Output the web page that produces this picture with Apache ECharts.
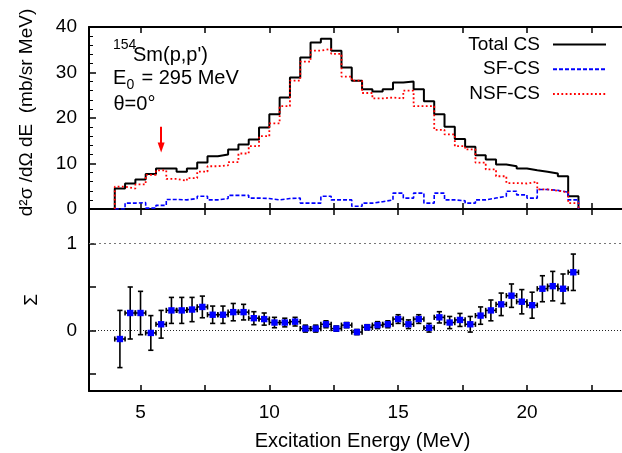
<!DOCTYPE html>
<html>
<head>
<meta charset="utf-8">
<script src="https://cdn.jsdelivr.net/npm/echarts@6/dist/echarts.min.js"></script>
<style>
  html, body { margin: 0; padding: 0; background: #fff; }
  #chart-dev { width: 622px; height: 453px; }
</style>
</head>
<body>
<div id="chart-dev"></div>
<script>
// bin centres (MeV), bins are 0.4 MeV wide
var energy = [4.2, 4.6, 5.0, 5.4, 5.8, 6.2, 6.6, 7.0, 7.4, 7.8, 8.2, 8.6, 9.0, 9.4, 9.8,
    10.2, 10.6, 11.0, 11.4, 11.8, 12.2, 12.6, 13.0, 13.4, 13.8, 14.2, 14.6, 15.0, 15.4, 15.8,
    16.2, 16.6, 17.0, 17.4, 17.8, 18.2, 18.6, 19.0, 19.4, 19.8, 20.2, 20.6, 21.0, 21.4, 21.8];
var binWidth = 0.4;

var totalCS = [4.5, 5.6, 6.5, 7.7, 8.9, 8.9, 8.2, 8.9, 10.2, 11.6, 12.0, 13.1, 14.2, 15.3, 17.9,
    20.8, 24.5, 28.9, 33.3, 36.6, 37.4, 34.8, 31.1, 28.2, 26.3, 25.8, 26.3, 27.8, 28.0, 26.3,
    23.7, 20.8, 18.1, 15.4, 13.7, 11.8, 10.9, 9.8, 9.4, 8.9, 8.5, 8.2, 7.8, 7.2, 2.8];
var sfCS = [0, 1.3, 1.4, 0.2, 0.8, 2.1, 2.0, 2.3, 2.8, 2.0, 2.3, 3.0, 3.0, 2.4, 2.3,
    2.0, 2.3, 2.4, 1.3, 1.3, 2.8, 2.0, 2.0, 0.6, 1.3, 1.6, 2.0, 3.5, 2.4, 3.5,
    1.3, 3.5, 2.0, 1.8, 1.3, 2.0, 2.4, 2.8, 3.9, 3.1, 2.4, 4.3, 4.1, 3.7, 2.0];
var nsfCS = [4.9, 4.5, 5.4, 7.5, 8.5, 6.6, 6.2, 6.8, 8.2, 9.4, 9.6, 10.3, 12.2, 13.8, 16.0,
    18.8, 22.6, 28.2, 32.4, 34.8, 35.2, 34.1, 29.1, 28.2, 25.5, 24.3, 24.5, 24.3, 26.0, 22.6,
    22.6, 17.4, 16.4, 13.8, 13.1, 10.2, 8.7, 7.2, 5.7, 5.6, 6.0, 4.3, 4.0, 3.7, 1.3];

var sigma = [-0.10, 0.20, 0.20, -0.03, 0.07, 0.23, 0.23, 0.24, 0.27, 0.18, 0.18, 0.21, 0.21, 0.14, 0.13,
    0.09, 0.09, 0.10, 0.02, 0.02, 0.07, 0.02, 0.06, -0.02, 0.035, 0.06, 0.07, 0.13, 0.07, 0.13,
    0.03, 0.15, 0.09, 0.12, 0.07, 0.17, 0.23, 0.30, 0.40, 0.33, 0.29, 0.48, 0.51, 0.48, 0.67];
var sigmaErr = [0.33, 0.30, 0.25, 0.20, 0.16, 0.15, 0.15, 0.14, 0.125, 0.10, 0.10, 0.10, 0.09, 0.075, 0.07,
    0.06, 0.05, 0.05, 0.04, 0.04, 0.04, 0.03, 0.03, 0.03, 0.03, 0.04, 0.04, 0.05, 0.05, 0.05,
    0.05, 0.065, 0.07, 0.075, 0.09, 0.10, 0.12, 0.13, 0.135, 0.14, 0.15, 0.15, 0.17, 0.17, 0.21];

// arrow marking the threshold (MeV; shaft top, shaft end and tip in mb/sr MeV)
var arrowE = 5.8;
var arrowFrom = 18.1;
var arrowTo = 13.2;
var arrowTip = 12.4;

var xTickVals = [5, 7.5, 10, 12.5, 15, 17.5, 20, 22.5];
var xLabelVals = [5, 10, 15, 20];
var sigmaTickVals = [-0.5, 0, 0.5, 1];
var sigmaLabelVals = [0, 1];
var sigmaRefLines = [0, 1];

var FONT = "'Liberation Sans', Arial, Helvetica, sans-serif";

var dom = document.getElementById('chart-dev');
var myChart = echarts.init(dom, null, {
    renderer: 'canvas',
    useDirtyRect: false
});

// histogram outline: rise from 0 at first edge, step per bin, drop to 0 at last edge
function histPoints(vals) {
    var half = binWidth / 2;
    var last = energy.length - 1;
    var pts = [[energy[0] - half, 0]];
    for (var i = 0; i < vals.length; i++) {
        pts.push([energy[i] - half, vals[i]]);
    }
    pts.push([energy[last] + half, vals[last]]);
    pts.push([energy[last] + half, 0]);
    return pts;
}

var sigmaData = energy.map(function (e, i) {
    return [e, sigma[i], sigmaErr[i]];
});

function renderErr(params, api) {
    var x = api.value(0), y = api.value(1), err = api.value(2);
    var half = binWidth / 2;
    var p = api.coord([x, y]);
    var top = api.coord([x, y + err]);
    var bot = api.coord([x, y - err]);
    var lft = api.coord([x - half, y]);
    var rgt = api.coord([x + half, y]);
    var cap = 2.6;
    var ls = { stroke: '#000', lineWidth: 1.6 };
    var sz = 6.4;
    return {
        type: 'group',
        children: [
            { type: 'line', shape: { x1: top[0], y1: top[1], x2: bot[0], y2: bot[1] }, style: ls },
            { type: 'line', shape: { x1: top[0] - cap, y1: top[1], x2: top[0] + cap, y2: top[1] }, style: ls },
            { type: 'line', shape: { x1: bot[0] - cap, y1: bot[1], x2: bot[0] + cap, y2: bot[1] }, style: ls },
            { type: 'line', shape: { x1: lft[0], y1: lft[1], x2: rgt[0], y2: rgt[1] }, style: ls },
            { type: 'line', shape: { x1: lft[0], y1: lft[1] - cap, x2: lft[0], y2: lft[1] + cap }, style: ls },
            { type: 'line', shape: { x1: rgt[0], y1: rgt[1] - cap, x2: rgt[0], y2: rgt[1] + cap }, style: ls },
            { type: 'rect', shape: { x: p[0] - sz / 2, y: p[1] - sz / 2, width: sz, height: sz }, style: { fill: '#0000ff' } }
        ]
    };
}

var frameLine = { show: true, onZero: false, lineStyle: { color: '#000', width: 2 } };

function xAx(grid, pos, labels) {
    return {
        type: 'value', gridIndex: grid, position: pos, min: 3, max: 24,
        axisLine: frameLine,
        axisTick: { show: true, inside: true, length: 6, customValues: xTickVals, lineStyle: { color: '#000', width: 1.5 } },
        axisLabel: labels ? {
            show: true, customValues: xLabelVals, margin: 12,
            fontSize: 19, fontFamily: FONT, color: '#000'
        } : { show: false },
        splitLine: { show: false }
    };
}

var option;

option = {
    animation: false,
    backgroundColor: '#fff',
    grid: [
        { left: 89, top: 27, width: 541, height: 182, outerBoundsMode: 'none', containLabel: false },
        { left: 89, top: 209, width: 541, height: 182, outerBoundsMode: 'none', containLabel: false }
    ],
    xAxis: [
        xAx(0, 'bottom', false),
        xAx(0, 'top', false),
        xAx(1, 'top', false),
        xAx(1, 'bottom', true)
    ],
    yAxis: [
        {
            type: 'value', gridIndex: 0, min: 0, max: 40, interval: 10,
            axisLine: frameLine,
            axisTick: { show: true, inside: true, length: 7, lineStyle: { color: '#000', width: 1.5 } },
            minorTick: { show: true, splitNumber: 5, length: 4, lineStyle: { color: '#000', width: 1 } },
            axisLabel: { margin: 12, fontSize: 19, fontFamily: FONT, color: '#000' },
            splitLine: { show: false }
        },
        {
            type: 'value', gridIndex: 1, min: -0.7, max: 1.4,
            axisLine: frameLine,
            axisTick: { show: true, inside: true, length: 7, customValues: sigmaTickVals, lineStyle: { color: '#000', width: 1.5 } },
            axisLabel: { customValues: sigmaLabelVals, margin: 12, fontSize: 19, fontFamily: FONT, color: '#000' },
            splitLine: { show: false }
        }
    ],
    legend: {
        orient: 'vertical',
        right: 15,
        top: 35,
        align: 'right',
        padding: 0,
        itemWidth: 53,
        itemHeight: 14,
        itemGap: 5.7,
        itemStyle: { opacity: 0 },
        lineStyle: { width: 2 },
        textStyle: { fontSize: 19, fontFamily: FONT, color: '#000', padding: [0, 8, 0, 0] },
        data: ['Total CS', 'SF-CS', 'NSF-CS']
    },
    series: [
        {
            name: 'Total CS',
            type: 'line',
            xAxisIndex: 0, yAxisIndex: 0,
            step: 'end',
            symbol: 'none',
            color: '#000',
            lineStyle: { color: '#000', width: 2 },
            data: histPoints(totalCS),
            markLine: {
                silent: true,
                symbol: ['none', 'none'],
                label: { show: false },
                lineStyle: { color: '#ff0000', width: 2, type: 'solid' },
                data: [[{ coord: [arrowE, arrowFrom] }, { coord: [arrowE, arrowTo] }]]
            },
            markPoint: {
                silent: true,
                symbol: 'triangle',
                symbolSize: [7, 10],
                symbolRotate: 180,
                symbolOffset: [0, '-50%'],
                label: { show: false },
                itemStyle: { color: '#ff0000' },
                data: [{ coord: [arrowE, arrowTip] }]
            }
        },
        {
            name: 'SF-CS',
            type: 'line',
            xAxisIndex: 0, yAxisIndex: 0,
            step: 'end',
            symbol: 'none',
            color: '#0000ff',
            lineStyle: { color: '#0000ff', width: 1.6, type: [4, 2] },
            data: histPoints(sfCS)
        },
        {
            name: 'NSF-CS',
            type: 'line',
            xAxisIndex: 0, yAxisIndex: 0,
            step: 'end',
            symbol: 'none',
            color: '#ff0000',
            lineStyle: { color: '#ff0000', width: 1.8, type: [1.8, 2.4] },
            data: histPoints(nsfCS)
        },
        {
            name: 'Sigma',
            type: 'custom',
            xAxisIndex: 3, yAxisIndex: 1,
            renderItem: renderErr,
            data: sigmaData,
            z: 5,
            markLine: {
                silent: true,
                symbol: ['none', 'none'],
                label: { show: false },
                data: [
                    { yAxis: sigmaRefLines[0], lineStyle: { color: '#222', width: 1, type: [1, 2] } },
                    { yAxis: sigmaRefLines[1], lineStyle: { color: '#777', width: 1, type: [2, 3] } }
                ]
            }
        }
    ],
    graphic: [
        { type: 'text', x: 26.5, y: 112.5, rotation: Math.PI / 2,
          style: { text: 'd\u00b2\u03c3 /d\u03a9 dE  (mb/sr MeV)', font: '19px ' + FONT, fill: '#000', align: 'center', verticalAlign: 'middle' } },
        { type: 'text', x: 31.5, y: 300, rotation: Math.PI / 2,
          style: { text: '\u03a3', font: '19px ' + FONT, fill: '#000', align: 'center', verticalAlign: 'middle' } },
        { type: 'text', x: 362.5, y: 441,
          style: { text: 'Excitation Energy (MeV)', font: '20px ' + FONT, fill: '#000', align: 'center', verticalAlign: 'middle' } },
        { type: 'text', x: 113, y: 45,
          style: { text: '154', font: '14px ' + FONT, fill: '#000', align: 'left', verticalAlign: 'middle' } },
        { type: 'text', x: 133, y: 55,
          style: { text: "Sm(p,p')", font: '20px ' + FONT, fill: '#000', align: 'left', verticalAlign: 'middle' } },
        { type: 'text', x: 113, y: 78,
          style: { text: 'E', font: '20px ' + FONT, fill: '#000', align: 'left', verticalAlign: 'middle' } },
        { type: 'text', x: 126.5, y: 85,
          style: { text: '0', font: '14px ' + FONT, fill: '#000', align: 'left', verticalAlign: 'middle' } },
        { type: 'text', x: 141.5, y: 78,
          style: { text: '= 295 MeV', font: '20px ' + FONT, fill: '#000', align: 'left', verticalAlign: 'middle' } },
        { type: 'text', x: 113.5, y: 104.5,
          style: { text: '\u03b8=0\u00b0', font: '20px ' + FONT, fill: '#000', align: 'left', verticalAlign: 'middle' } }
    ]
};

if (option && typeof option === 'object') {
    myChart.setOption(option);
}

window.addEventListener('resize', myChart.resize);
</script>
</body>
</html>
